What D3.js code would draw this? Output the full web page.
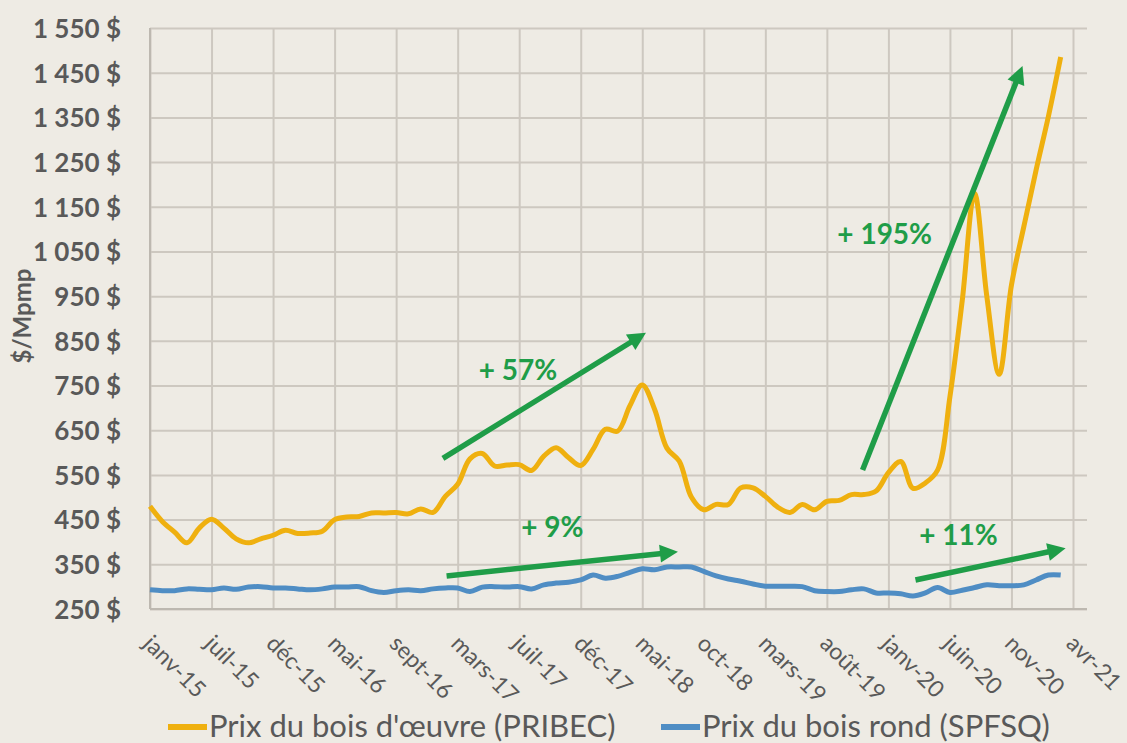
<!DOCTYPE html>
<html>
  <head>
    <meta charset="utf-8">
    <title>Prix du bois</title>
    <script src="https://d3js.org/d3.v7.min.js"></script>
    <style>
      body { margin: 0; background: #eeebe4; }
      svg { display: block; font-family: Lato, "Open Sans", sans-serif; }
    </style>
  </head>
  <body>
    <script>
        var width = 1127;
        var height = 743;

        // chart data (monthly points)
        var tickLabels = ["janv-15", "juil-15", "déc-15", "mai-16", "sept-16", "mars-17", "juil-17", "déc-17",
            "mai-18", "oct-18", "mars-19", "août-19", "janv-20", "juin-20", "nov-20", "avr-21"];
        var sawnPrice = [480, 446, 422, 398, 431, 451, 431, 407, 398, 407,
            415, 426, 419, 420, 424, 450, 456, 457, 465, 465,
            466, 463, 474, 466, 502, 529, 586, 598, 570, 572,
            573, 560, 592, 611, 589, 571, 607, 652, 648, 705,
            751, 697, 610, 581, 500, 472, 484, 484, 521, 521,
            502, 478, 466, 484, 472, 491, 493, 506, 506, 514,
            555, 580, 520, 532, 561, 725, 940, 1180, 949, 775,
            975, 1105, 1232, 1352, 1485];
        var roundPrice = [293, 291, 291, 295, 294, 293, 297, 294, 299, 300,
            297, 297, 295, 293, 295, 299, 299, 300, 291, 287,
            291, 293, 291, 295, 297, 297, 289, 299, 300, 299,
            300, 295, 304, 308, 310, 315, 326, 319, 323, 332,
            340, 338, 344, 344, 344, 334, 324, 317, 312, 306,
            301, 301, 301, 300, 291, 289, 289, 293, 295, 286,
            286, 284, 279, 286, 298, 287, 292, 298, 304, 302,
            302, 304, 315, 326, 326];
        var seriesNames = ["Prix du bois d'œuvre (PRIBEC)", "Prix du bois rond (SPFSQ)"];
        var yTicks = d3.range(250, 1551, 100);
        // annotations: [tail index, tail value, tip index, tip value, label index, label value, text]
        var arrows = [
            [23.8, 587, 40.3, 868, 29.9, 785, "+ 57%"],
            [24.1, 324, 42.9, 378, 32.7, 433, "+ 9%"],
            [57.9, 561, 70.9, 1465, 59.7, 1089, "+ 195%"],
            [62.2, 315, 74.4, 386, 65.7, 416, "+ 11%"]
        ];

        var plotLeft = 150, plotTop = 28, plotRight = 1087, plotBottom = 609;
        var sawnColor = "#efb00f", roundColor = "#4f8dc4", green = "#1f9d48";
        var textColor = "#595959", gridColor = "#cdc8c0";

        var svg = d3.select("body").append("svg")
            .attr("width", width)
            .attr("height", height)
        ;
        svg.append("rect").attr("width", width).attr("height", height).attr("fill", "#eeebe4");

        var xScale = d3.scaleLinear()
            .domain([0, 75])
            .range([plotLeft, 1073])
        ;
        var yScale = d3.scaleLinear()
            .domain([250, 1550])
            .range([plotBottom, plotTop])
        ;

        var fr = d3.formatLocale({decimal: ",", thousands: "\u00a0", grouping: [3], currency: ["", "\u00a0$"]});
        var fmt = fr.format("$,");

        // gridlines
        svg.append("g")
            .attr("transform", "translate(" + plotLeft + ",0)")
            .call(d3.axisLeft(yScale).tickValues(yTicks).tickSize(-(plotRight - plotLeft)).tickFormat(""))
            .call(g => g.select(".domain").remove())
            .call(g => g.selectAll("line").attr("stroke", gridColor).attr("stroke-width", 2))
        ;
        svg.append("g")
            .attr("transform", "translate(0," + plotBottom + ")")
            .call(d3.axisBottom(xScale).tickValues(d3.range(0, 76, 5)).tickSize(-(plotBottom - plotTop)).tickFormat(""))
            .call(g => g.select(".domain").remove())
            .call(g => g.selectAll("line").attr("stroke", gridColor).attr("stroke-width", 2))
        ;
        // axis lines
        svg.append("line").attr("x1", plotLeft).attr("x2", plotLeft).attr("y1", plotTop).attr("y2", plotBottom)
            .attr("stroke", "#bdb8b0").attr("stroke-width", 2);
        svg.append("line").attr("x1", plotLeft).attr("x2", plotRight).attr("y1", plotBottom).attr("y2", plotBottom)
            .attr("stroke", "#bdb8b0").attr("stroke-width", 2);

        // y labels
        svg.append("g")
            .attr("transform", "translate(" + plotLeft + ",0)")
            .call(d3.axisLeft(yScale).tickValues(yTicks).tickSize(0).tickPadding(29).tickFormat(fmt))
            .call(g => g.select(".domain").remove())
            .call(g => g.selectAll("text")
                .attr("fill", textColor)
                .attr("font-family", "Lato")
                .attr("font-weight", "bold")
                .attr("font-size", 26)
                .attr("dy", "0.36em"))
        ;
        // x labels
        svg.append("g")
            .selectAll("text")
            .data(tickLabels)
            .enter()
            .append("text")
            .attr("transform", (d, i) => "translate(" + (xScale(i * 5) - 8) + ",645) rotate(45)")
            .attr("fill", textColor)
            .attr("font-size", 23)
            .text(d => d)
        ;

        svg.append("text")
            .attr("transform", "translate(31,316) rotate(-90)")
            .attr("text-anchor", "middle")
            .attr("fill", textColor)
            .attr("font-weight", "bold")
            .attr("font-size", 24)
            .text("$/Mpmp")
        ;

        // lines
        var line = d3.line()
            .x((d, i) => xScale(i))
            .y(d => yScale(d))
            .curve(d3.curveCatmullRom.alpha(0.5))
        ;
        svg.append("path").datum(roundPrice)
            .attr("d", line).attr("fill", "none")
            .attr("stroke", roundColor).attr("stroke-width", 5).attr("stroke-linejoin", "round")
        ;
        svg.append("path").datum(sawnPrice)
            .attr("d", line).attr("fill", "none")
            .attr("stroke", sawnColor).attr("stroke-width", 5).attr("stroke-linejoin", "round")
        ;

        // arrows
        var headLen = 18, headW = 18;
        arrows.forEach(a => {
            var x1 = xScale(a[0]), y1 = yScale(a[1]), x2 = xScale(a[2]), y2 = yScale(a[3]);
            var dx = x2 - x1, dy = y2 - y1, len = Math.sqrt(dx * dx + dy * dy);
            var ux = dx / len, uy = dy / len;
            var bx = x2 - ux * headLen, by = y2 - uy * headLen;
            svg.append("line")
                .attr("x1", x1).attr("y1", y1).attr("x2", bx + ux * 2).attr("y2", by + uy * 2)
                .attr("stroke", green).attr("stroke-width", 5.5)
            ;
            svg.append("path")
                .attr("d", "M" + x2 + "," + y2 +
                    "L" + (bx - uy * headW / 2) + "," + (by + ux * headW / 2) +
                    "L" + (bx + uy * headW / 2) + "," + (by - ux * headW / 2) + "Z")
                .attr("fill", green)
            ;
            svg.append("text")
                .attr("x", xScale(a[4])).attr("y", yScale(a[5]))
                .attr("dy", "0.36em")
                .attr("text-anchor", "middle")
                .attr("fill", green)
                .attr("font-weight", "bold")
                .attr("font-size", 28)
                .text(a[6])
            ;
        });

        // legend
        var legend = [[168, sawnColor], [661, roundColor]];
        legend.forEach((l, i) => {
            svg.append("line")
                .attr("x1", l[0]).attr("x2", l[0] + 39).attr("y1", 727).attr("y2", 727)
                .attr("stroke", l[1]).attr("stroke-width", 6)
            ;
            svg.append("text")
                .attr("x", l[0] + 41).attr("y", 737)
                .attr("fill", textColor)
                .attr("font-size", 31)
                .text(seriesNames[i])
            ;
        });
    </script>
  </body>
</html>
